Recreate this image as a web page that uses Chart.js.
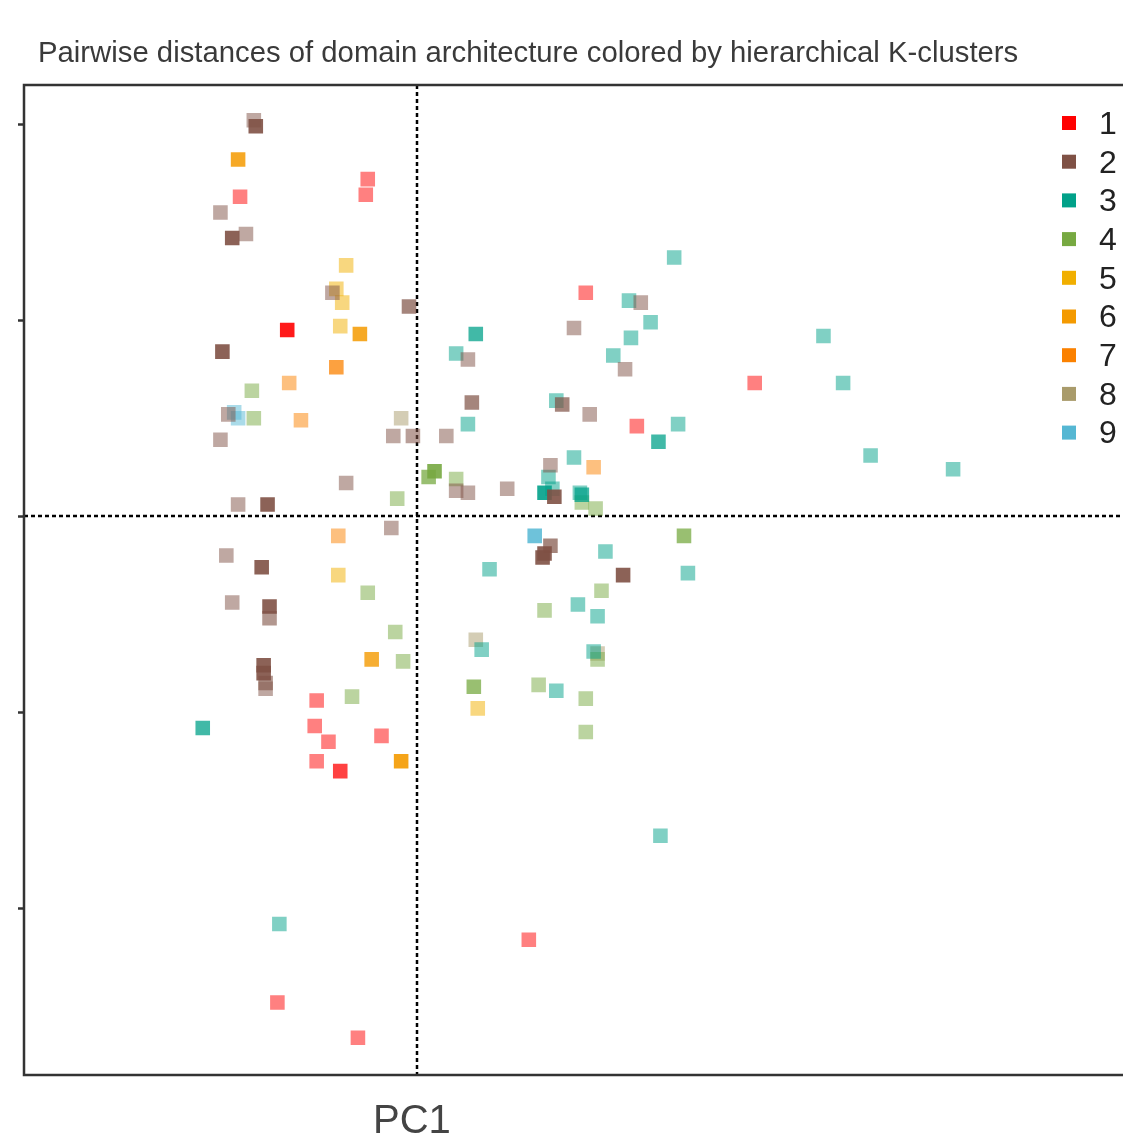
<!DOCTYPE html>
<html>
<head>
<meta charset="utf-8">
<title>Pairwise distances of domain architecture</title>
<script src="https://cdn.jsdelivr.net/npm/chart.js@4.4.1/dist/chart.umd.min.js"></script>
<style>
  html, body { margin: 0; padding: 0; background: #fff; overflow: hidden; }
  #wrap { width: 1150px; height: 1142px; }
</style>
</head>
<body>
<div id="wrap"><canvas id="pcaChart" width="1150" height="1142"></canvas></div>
<script>
// Cluster labels and colours
const clusterLabels = ['1', '2', '3', '4', '5', '6', '7', '8', '9'];
const clusterColors = ['#FF0101', '#7F5145', '#01A189', '#77A941', '#F1AF00', '#F49A00', '#FB8100', '#A99B6B', '#55B7D3'];

// Points per cluster: [PC1, PC2, membership strength]
const cluster1 = [
    [-25, 172, 0.5], [-26, 164, 0.5], [-90, 163, 0.5], [86, 114, 0.5], [172, 68, 0.5],
    [112, 46, 0.5], [-51, -94, 0.5], [-52, -107, 0.5], [-45, -115, 0.5], [-18, -112, 0.5],
    [-51, -125, 0.5], [57, -216, 0.5], [-71, -248, 0.5], [-30, -266, 0.5],
    [-39, -130, 0.75], [-66, 95, 0.9]
];
const cluster2 = [
    [-83, 202, 0.5], [-100, 155, 0.5], [-87, 144, 0.5], [-43, 114, 0.5], [114, 109, 0.5],
    [80, 96, 0.5], [26, 80, 0.5], [106, 75, 0.5], [88, 52, 0.5], [-96, 52, 0.5],
    [-12, 41, 0.5], [-2, 41, 0.55], [15, 41, 0.5], [-100, 39, 0.5], [68, 26, 0.5],
    [-36, 17, 0.5], [20, 13, 0.5], [26, 12, 0.5], [46, 14, 0.5], [-91, 6, 0.5],
    [-13, -6, 0.5], [-97, -20, 0.5], [-94, -44, 0.5], [-77, -88, 0.5],
    [-75, -52, 0.6], [-77, -85, 0.6],
    [-4, 107, 0.7], [28, 58, 0.7], [74, 57, 0.7], [68, -15, 0.7],
    [-82, 199, 0.9], [-94, 142, 0.9], [-99, 84, 0.9], [70, 10, 0.9], [-76, 6, 0.9],
    [65, -19, 0.9], [64, -21, 0.9], [105, -30, 0.9], [-79, -26, 0.9], [-75, -46, 0.9],
    [-78, -76, 0.9], [-78, -80, 0.9]
];
const cluster3 = [
    [131, 132, 0.5], [108, 110, 0.5], [119, 99, 0.5], [109, 91, 0.5], [207, 92, 0.5],
    [20, 83, 0.5], [100, 82, 0.5], [217, 68, 0.5], [71, 59, 0.5], [26, 47, 0.5],
    [133, 47, 0.5], [231, 31, 0.5], [273, 24, 0.5], [80, 30, 0.5], [67, 20, 0.5],
    [69, 14, 0.5], [83, 12, 0.5], [96, -18, 0.5], [37, -27, 0.5], [138, -29, 0.5],
    [82, -45, 0.5], [92, -51, 0.5], [33, -68, 0.5], [90, -69, 0.5], [71, -89, 0.5],
    [124, -163, 0.5], [-70, -208, 0.5],
    [30, 93, 0.75], [123, 38, 0.75], [84, 11, 0.75], [-109, -108, 0.75],
    [65, 12, 0.9]
];
const cluster4 = [
    [-84, 64, 0.5], [-83, 50, 0.5], [20, 19, 0.5], [-10, 9, 0.5], [84, 7, 0.5],
    [91, 4, 0.5], [-25, -39, 0.5], [94, -38, 0.5], [65, -48, 0.5], [-11, -59, 0.5],
    [-7, -74, 0.5], [92, -73, 0.5], [62, -86, 0.5], [-33, -92, 0.5], [86, -93, 0.5],
    [86, -110, 0.5],
    [6, 20, 0.75], [136, -10, 0.75], [29, -87, 0.75],
    [9, 23, 0.9]
];
const cluster5 = [
    [-36, 128, 0.5], [-41, 116, 0.5], [-38, 109, 0.5], [-39, 97, 0.5], [-40, -30, 0.5],
    [31, -98, 0.5]
];
const cluster6 = [
    [-91, 182, 0.85], [-29, 93, 0.85], [-23, -73, 0.8], [-8, -125, 0.9]
];
const cluster7 = [
    [-65, 68, 0.5], [-59, 49, 0.5], [90, 25, 0.5], [-40, -10, 0.5], [-41, 76, 0.75]
];
const cluster8 = [
    [-8, 50, 0.5], [30, -63, 0.5], [92, -70, 0.5]
];
const cluster9 = [
    [-93, 53, 0.5], [-91, 50, 0.5], [60, -10, 0.85]
];
const clusterPoints = [cluster1, cluster2, cluster3, cluster4, cluster5, cluster6, cluster7, cluster8, cluster9];

// Axis setup
const pc1Range = [-200, 368];
const pc2Range = [-285, 220];
const pc2Ticks = [-200, -100, 0, 100, 200];

const titleText = 'Pairwise distances of domain architecture colored by hierarchical K-clusters';
const xTitleText = 'PC1';

function hexToRgba(hex, a) {
    const n = parseInt(hex.slice(1), 16);
    return `rgba(${(n >> 16) & 255}, ${(n >> 8) & 255}, ${n & 255}, ${a})`;
}

const datasets = clusterPoints.map((pts, i) => ({
    label: clusterLabels[i],
    data: pts.map(p => ({x: p[0], y: p[1], w: p[2]})),
    pointStyle: 'rect',
    pointRadius: 10.3,
    pointHoverRadius: 10.3,
    borderWidth: 0,
    backgroundColor: (ctx) => hexToRgba(clusterColors[i], ctx.raw ? ctx.raw.w : 1)
}));

// Zero lines, frame, titles and the in-plot legend
const decorPlugin = {
    id: 'decor',
    beforeDatasetsDraw(chart) {
        const {ctx, chartArea: a, scales} = chart;
        const x0 = Math.round(scales.x.getPixelForValue(0));
        const y0 = Math.round(scales.y.getPixelForValue(0));
        ctx.save();
        ctx.strokeStyle = '#000';
        ctx.lineWidth = 2.5;
        ctx.setLineDash([4, 3]);
        ctx.beginPath();
        ctx.moveTo(x0, a.top);
        ctx.lineTo(x0, a.bottom);
        ctx.moveTo(a.left, y0);
        ctx.lineTo(a.right, y0);
        ctx.stroke();
        ctx.restore();
    },
    afterDraw(chart) {
        const {ctx, chartArea: a, scales} = chart;
        ctx.save();
        ctx.strokeStyle = '#333';
        ctx.lineWidth = 2.5;
        ctx.strokeRect(a.left, a.top, a.right - a.left, a.bottom - a.top);

        ctx.fillStyle = '#3a3a3a';
        ctx.font = '29.3px "Liberation Sans", Arial, sans-serif';
        ctx.textBaseline = 'alphabetic';
        ctx.textAlign = 'left';
        ctx.fillText(titleText, 38, 62);

        ctx.fillStyle = '#444';
        ctx.font = '40px "Liberation Sans", Arial, sans-serif';
        ctx.textAlign = 'center';
        ctx.fillText(xTitleText, scales.x.getPixelForValue(0) - 5, 1133);

        ctx.font = '32px "Liberation Sans", Arial, sans-serif';
        ctx.textAlign = 'left';
        ctx.textBaseline = 'middle';
        chart.data.datasets.forEach((ds, i) => {
            const y = 123 + i * 38.7;
            ctx.fillStyle = clusterColors[i];
            ctx.fillRect(1062, y - 7, 14, 14);
            ctx.fillStyle = '#222';
            ctx.fillText(ds.label, 1099, y + 2);
        });
        ctx.restore();
    }
};

new Chart(document.getElementById('pcaChart').getContext('2d'), {
    type: 'scatter',
    data: { datasets },
    options: {
        responsive: false,
        animation: false,
        layout: { padding: { top: 85, left: 18, right: 10, bottom: 67 } },
        plugins: {
            legend: { display: false },
            title: { display: false },
            tooltip: { enabled: false }
        },
        scales: {
            x: {
                type: 'linear',
                min: pc1Range[0],
                max: pc1Range[1],
                grid: { display: false, drawTicks: false },
                border: { display: false },
                ticks: { display: false }
            },
            y: {
                type: 'linear',
                min: pc2Range[0],
                max: pc2Range[1],
                afterBuildTicks: (scale) => { scale.ticks = pc2Ticks.map(v => ({value: v})); },
                grid: {
                    drawOnChartArea: false,
                    drawTicks: true,
                    tickLength: 6,
                    tickWidth: 2.5,
                    tickColor: '#333'
                },
                border: { display: false },
                ticks: { display: false }
            }
        }
    },
    plugins: [decorPlugin]
});
</script>
</body>
</html>
